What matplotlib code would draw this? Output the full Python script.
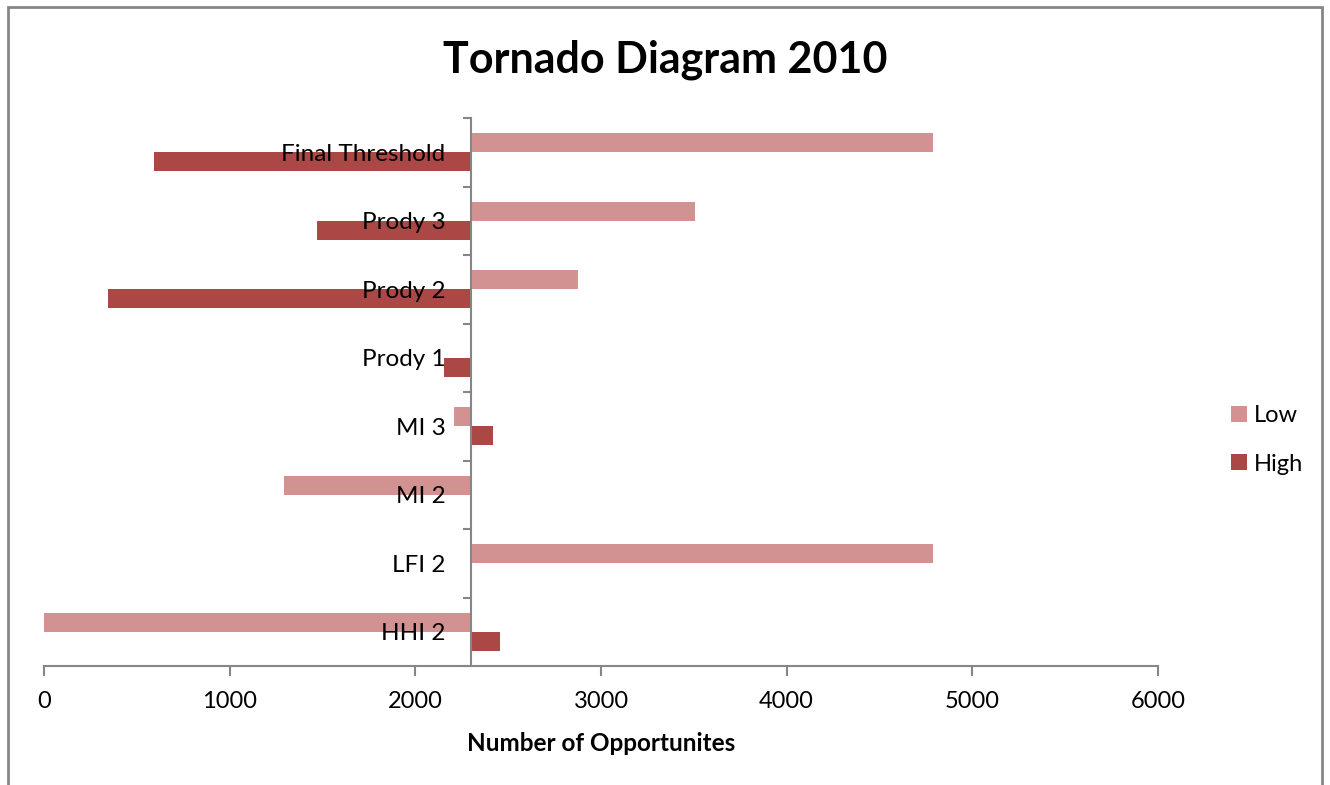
import matplotlib
matplotlib.use("Agg")
import matplotlib.pyplot as plt
import matplotlib.patches as mpatches
import numpy as np

# Datos (de abajo hacia arriba)
categorias = ['HHI 2', 'LFI 2', 'MI 2', 'MI 3', 'Prody 1', 'Prody 2', 'Prody 3', 'Final Threshold']
base = 2300
low = [0, 4790, 1295, 2210, 2300, 2875, 3505, 4790]
high = [2455, 2300, 2300, 2420, 2152, 345, 1470, 592]
xticks = [0, 1000, 2000, 3000, 4000, 5000, 6000]

plt.rcParams['font.family'] = ['Lato', 'DejaVu Sans']

color_low = '#D39292'
color_high = '#AB4846'
gris = '#868686'

fig = plt.figure(figsize=(13.3, 7.85), dpi=100)
ax = fig.add_axes([44/1330, 1-666/785, (1158-44)/1330, (666-118)/785])

y = np.arange(len(categorias))
h = 0.28
ax.barh(y + h/2, np.array(low) - base, left=base, height=h, color=color_low, label='Low')
ax.barh(y - h/2, np.array(high) - base, left=base, height=h, color=color_high, label='High')

ax.set_xlim(0, 6000)
ax.set_ylim(-0.5, len(categorias) - 0.5)

# Ejes
for s in ['top', 'right']:
    ax.spines[s].set_visible(False)
ax.spines['left'].set_position(('data', base))
ax.spines['left'].set_color(gris)
ax.spines['bottom'].set_color(gris)
ax.spines['left'].set_linewidth(1.5)
ax.spines['bottom'].set_linewidth(1.5)

ax.set_yticks(np.arange(-0.5, len(categorias), 1))
ax.set_yticklabels([])
ax.set_yticks(y, minor=True)
ax.set_yticklabels(categorias, minor=True, fontsize=17.5)
ax.tick_params(axis='y', which='major', direction='out', length=6, color=gris, width=1.5)
ax.tick_params(axis='y', which='minor', length=0, pad=18.5)

ax.set_xticks(xticks)
ax.set_xticklabels([str(v) for v in xticks], fontsize=17)
# marcas del eje x hacia abajo
ax.tick_params(axis='x', direction='out', length=7, color=gris, width=1.5, pad=11)
ax.set_xlabel('Number of Opportunites', fontsize=17.5, fontweight='bold', labelpad=14.5)

fig.suptitle('Tornado Diagram 2010', fontsize=31, fontweight='bold', y=1-60/785, va='center')

fig.legend(loc='center left', bbox_to_anchor=(1210/1330, 1-440/785), frameon=False,
           fontsize=17, handlelength=0.65, handleheight=0.65, handletextpad=0.3,
           labelspacing=1.15)

# Borde del area del grafico
fig.patches.append(mpatches.Rectangle((8/1330, -0.02), (1322-8)/1330, 1.02 - 7/785,
                                      transform=fig.transFigure, fill=False,
                                      edgecolor=gris, linewidth=2))

fig.savefig('out.png', dpi=100)
